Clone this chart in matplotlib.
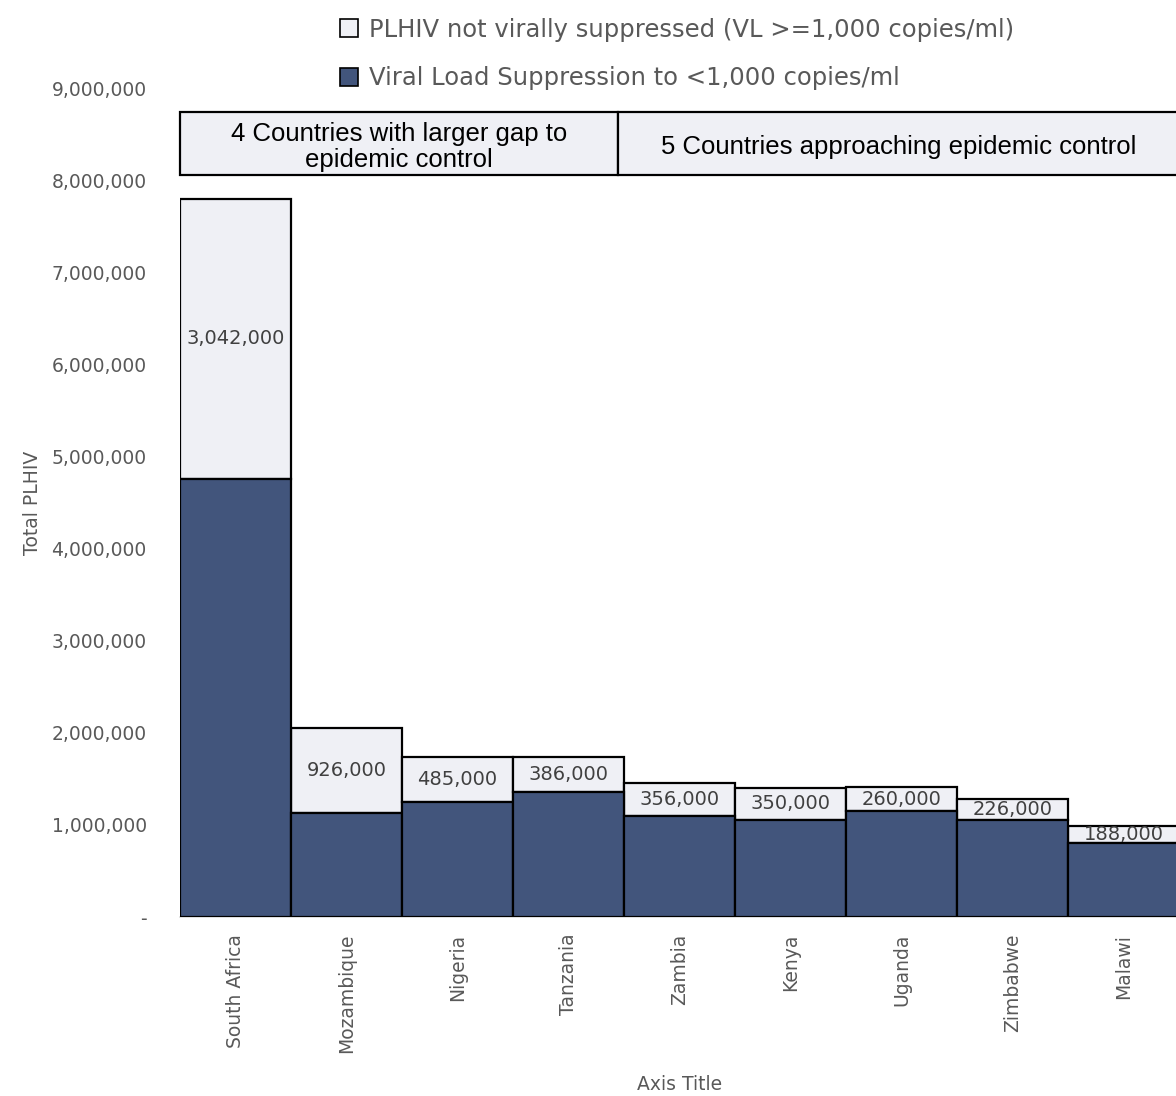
import matplotlib
matplotlib.use("Agg")
import matplotlib.pyplot as plt
from matplotlib.patches import Rectangle, Patch
from matplotlib.ticker import FuncFormatter

countries = ["South Africa", "Mozambique", "Nigeria", "Tanzania", "Zambia",
             "Kenya", "Uganda", "Zimbabwe", "Malawi"]
suppressed = [4758000, 1130000, 1252000, 1352000, 1100000,
              1052000, 1150000, 1055000, 800000]
not_suppressed = [3042000, 926000, 485000, 386000, 356000,
                  350000, 260000, 226000, 188000]
group_labels = ["4 Countries with larger gap to\nepidemic control",
                "5 Countries approaching epidemic control"]
legend_labels = ["PLHIV not virally suppressed (VL >=1,000 copies/ml)",
                 "Viral Load Suppression to <1,000 copies/ml"]

DARK = "#42557C"
LIGHT = "#EFF0F5"
GRAY = "#595959"
W, H = 1176, 1096

fig = plt.figure(figsize=(W / 100, H / 100), dpi=100)
ax = fig.add_axes([180 / W, (H - 917) / H, (1179 - 180) / W, (917 - 88) / H])

x = list(range(len(countries)))
ax.bar(x, not_suppressed, bottom=suppressed, width=1.0, color=LIGHT,
       edgecolor="black", linewidth=1.6, zorder=1)
ax.bar(x, suppressed, width=1.0, color=DARK, edgecolor="black",
       linewidth=1.6, zorder=3)

for xi, s, n in zip(x, suppressed, not_suppressed):
    ax.text(xi, s + n / 2, f"{n:,}", ha="center", va="center",
            fontsize=14, color="#404040", zorder=2)

# group header boxes above the bars
for (x0, x1), lab in zip([(-0.5, 3.45), (3.45, 9.0)], group_labels):
    ax.add_patch(Rectangle((x0, 8060000), x1 - x0, 680000, facecolor=LIGHT,
                           edgecolor="black", linewidth=1.6, zorder=4,
                           clip_on=False))
    cx = (x0 + min(x1, 8.5)) / 2
    ax.text(cx, 8360000, lab, ha="center", va="center", fontsize=18.5,
            family="Liberation Sans", linespacing=1.12, zorder=5)

ax.set_xlim(-0.5, 8.5)
ax.set_ylim(0, 9000000)
ax.set_yticks(range(0, 9000001, 1000000))
ax.yaxis.set_major_formatter(FuncFormatter(lambda v, p: "-" if v == 0 else f"{int(v):,}"))
ax.set_xticks(x)
ax.set_xticklabels(countries, rotation=90)
ax.tick_params(axis="both", length=0, labelsize=13.5, labelcolor=GRAY)
ax.tick_params(axis="x", pad=12)
ax.tick_params(axis="y", pad=24)
for side in ["left", "right", "top"]:
    ax.spines[side].set_visible(False)
ax.spines["bottom"].set_color("#D9D9D9")
ax.spines["bottom"].set_linewidth(1.2)

ax.set_ylabel("Total PLHIV", fontsize=13.5, color=GRAY)
ax.set_xlabel("Axis Title", fontsize=13.5, color=GRAY)
ax.yaxis.set_label_coords(-0.138, 0.5)
ax.xaxis.set_label_coords(0.5, -0.19)

handles = [Patch(facecolor=LIGHT, edgecolor="black", linewidth=1.2),
           Patch(facecolor=DARK, edgecolor="black", linewidth=1.2)]
fig.legend(handles, legend_labels, loc="upper left",
           bbox_to_anchor=(318 / W, 1 + 4 / H), frameon=False,
           fontsize=17.5, handlelength=0.75, handleheight=0.75,
           handletextpad=0.45, labelspacing=1.0, labelcolor=GRAY)

fig.savefig("out.png", dpi=100)
